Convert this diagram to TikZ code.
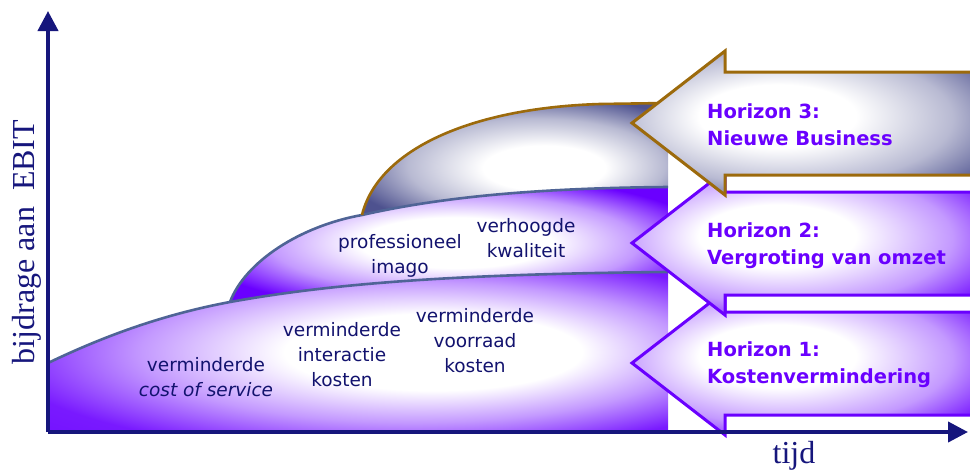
\documentclass[tikz,border=0pt]{standalone}
\usepackage{fontspec}
\setmainfont{Liberation Serif}
\setsansfont{DejaVu Sans}
\usetikzlibrary{arrows.meta}

\definecolor{axisblue}{HTML}{16167C}
\definecolor{textnavy}{HTML}{12126E}
\definecolor{hpurple}{HTML}{6A00FF}
\definecolor{slate}{HTML}{4F6496}
\definecolor{bronze}{HTML}{9C6A0C}
\definecolor{greyblue}{HTML}{4E528F}

% glow shadings for the areas and the arrows
\pgfdeclareradialshading{lowglow}{\pgfpoint{8bp}{0bp}}{color(0bp)=(white); color(12bp)=(white); color(22bp)=(hpurple!40); color(32bp)=(hpurple!90); color(50bp)=(hpurple)}
\pgfdeclareradialshading{midglow}{\pgfpoint{1bp}{1bp}}{color(0bp)=(white); color(11bp)=(white); color(21bp)=(hpurple!40); color(30bp)=(hpurple); color(50bp)=(hpurple)}
\pgfdeclareradialshading{topglow}{\pgfpoint{6bp}{-5bp}}{color(0bp)=(white); color(10bp)=(white); color(21bp)=(greyblue!40); color(31bp)=(greyblue); color(50bp)=(greyblue)}
\pgfdeclareradialshading{arrowglow}{\pgfpoint{-6bp}{3bp}}{color(0bp)=(white); color(11bp)=(white); color(23bp)=(hpurple!40); color(33bp)=(hpurple); color(50bp)=(hpurple)}
\pgfdeclareradialshading{greyglow}{\pgfpoint{-6bp}{3bp}}{color(0bp)=(white); color(11bp)=(white); color(23bp)=(greyblue!40); color(33bp)=(greyblue); color(50bp)=(greyblue)}

\begin{document}
\begin{tikzpicture}[x=1pt,y=-1pt,
  axis/.style={line width=4pt,draw=axisblue,-{Triangle[length=20pt,width=20pt]}},
  ridge/.style={line width=2.6pt,draw=slate},
  rim/.style={line width=3pt,line join=miter},
  area text/.style={font=\sffamily\fontsize{18.5}{25}\selectfont,text=textnavy,align=center,inner sep=0pt},
  horizon/.style={font=\sffamily\bfseries\fontsize{19.5}{27}\selectfont,text=hpurple,align=left,anchor=west,inner sep=0pt},
  axis label/.style={font=\fontsize{32}{32}\selectfont,text=axisblue,inner sep=0pt}]

\path[use as bounding box,clip] (0,0) rectangle (970,472);

% corner points of the three areas
\coordinate (origin) at (48,432);
\coordinate (r1a) at (48,363);
\coordinate (r1b) at (230,302);
\coordinate (r1c) at (668,272);
\coordinate (r2b) at (362,215);
\coordinate (r2c) at (668,187);
\coordinate (r3c) at (668,103);

% areas
\shade[shading=lowglow] (r1a) .. controls (100,338) and (160,315) .. (r1b)
  .. controls (330,284) and (450,274) .. (r1c) -- (668,432) -- (origin) -- cycle;
\shade[shading=midglow] (r1b) .. controls (245,262) and (300,226) .. (r2b)
  .. controls (450,195) and (550,188) .. (r2c) -- (r1c)
  .. controls (450,274) and (330,284) .. (r1b) -- cycle;
\shade[shading=topglow] (r2b) .. controls (378,150) and (470,108) .. (600,104) -- (r3c) -- (r2c)
  .. controls (550,188) and (450,195) .. (r2b) -- cycle;

\draw[ridge] (r1a) .. controls (100,338) and (160,315) .. (r1b)
  .. controls (330,284) and (450,274) .. (r1c);
\draw[ridge] (r1b) .. controls (245,262) and (300,226) .. (r2b)
  .. controls (450,195) and (550,188) .. (r2c);
\draw[ridge,draw=bronze] (r2b) .. controls (378,150) and (470,108) .. (600,104) -- (r3c);

\node[area text] (cost) at (206,377) {verminderde\\\textit{cost of service}};
\node[area text] (interactie) at (342,355) {verminderde\\interactie\\kosten};
\node[area text] (voorraad) at (475,341) {verminderde\\voorraad\\kosten};
\node[area text] (imago) at (400,256) {professioneel\\imago};
\node[area text] (kwaliteit) at (526,238) {verhoogde\\kwaliteit};

% horizon arrows
\shade[shading=arrowglow,draw=hpurple,rim] (632,363) -- (725,291) -- (725,312) -- (990,312)
  -- (990,415) -- (725,415) -- (725,435) -- cycle;
\shade[shading=arrowglow,draw=hpurple,rim] (632,243) -- (725,171) -- (725,192) -- (990,192)
  -- (990,295) -- (725,295) -- (725,315) -- cycle;
\shade[shading=greyglow,draw=bronze,rim] (632,123) -- (725,51) -- (725,72) -- (990,72)
  -- (990,175) -- (725,175) -- (725,195) -- cycle;

\node[horizon] (h3) at (707,125) {Horizon 3:\\Nieuwe Business};
\node[horizon] (h2) at (707,246) {Horizon 2:\\Vergroting van omzet};
\node[horizon] (h1) at (707,365) {Horizon 1:\\Kostenvermindering};

% axes
\coordinate (ytip) at (48,11);
\coordinate (xtip) at (968,432);
\draw[axis] (origin) -- (ytip);
\draw[axis] (origin) -- (xtip);

\node[axis label,rotate=90] (ylabel) at (27,242) {bijdrage aan\ \ EBIT};
\node[axis label] (xlabel) at (794,456) {tijd};
\end{tikzpicture}
\end{document}
